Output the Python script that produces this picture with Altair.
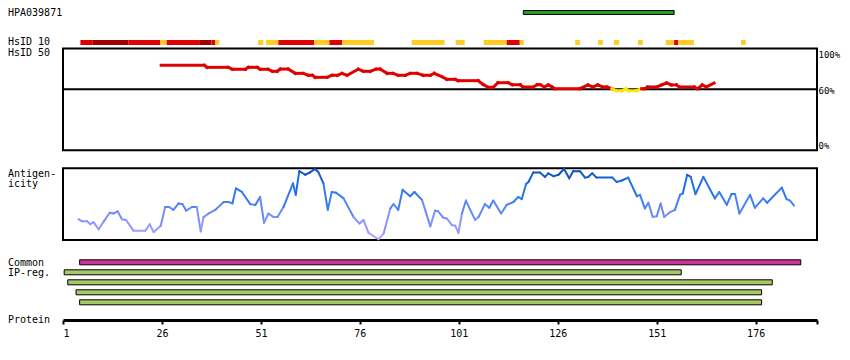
import altair as alt
import pandas as pd

FONT = "DejaVu Sans Mono"
W, H = 754, 312
RES_MIN, RES_MAX = 1, 191.5
TICKS = [1, 26, 51, 76, 101, 126, 151, 176]

# ---- antibody region ----
antibody_name = "HPA039871"
antibody_start = [117.3]
antibody_end = [155.4]

# ---- HsID 10 blocks ----
hs10_start = [5.4, 8.4, 17.5, 25.6, 27.2, 35.4, 38.5, 39.5, 50.3, 52.3, 55.4, 64.5, 68.3, 71.5,
              89.1, 100.2, 107.3, 113.1, 116.4, 130.4, 136.2, 140.2, 146.3, 153.3, 155.4, 156.4, 172.3]
hs10_end = [8.4, 17.5, 25.6, 27.2, 35.4, 38.5, 39.5, 40.5, 51.6, 55.4, 64.5, 68.3, 71.5, 79.6,
            97.4, 102.5, 113.1, 116.4, 117.4, 131.6, 137.4, 141.5, 147.5, 155.4, 156.4, 160.4, 173.5]
hs10_level = ["high", "top", "high", "mid", "high", "top", "high", "mid", "mid", "mid", "high", "mid", "high", "mid",
              "mid", "mid", "mid", "high", "mid", "mid", "mid", "mid", "mid", "mid", "high", "mid", "mid"]

# ---- HsID 50 identity (%) ----
id_res = [25.8, 36.7, 37.4, 42.7, 43.8, 47.1, 47.8, 50.1, 50.8, 52.8, 53.9, 55.1, 55.9, 57.9, 59.7, 61.7,
          63.0, 64.0, 64.7, 67.7, 69.0, 70.3, 71.5, 72.8, 75.6, 76.9, 78.6, 80.1, 81.1, 82.9, 84.4, 85.7,
          87.5, 88.7, 90.5, 92.0, 93.8, 94.8, 96.8, 98.0, 100.1, 100.8, 105.9, 107.1, 108.4, 109.7, 110.9,
          113.4, 114.5, 116.5, 117.2, 119.8, 120.8, 121.6, 122.6, 123.6, 124.6, 125.3, 131.6, 133.6, 134.9,
          136.1, 137.4, 138.4, 139.7, 140.7, 142.2, 143.2, 143.9, 145.9, 147.2, 147.9, 148.7, 151.0, 152.2,
          153.5, 154.7, 156.0, 156.7, 160.5, 161.3, 162.5, 163.5, 165.5]
id_pct = [83.5, 83.5, 81.5, 81.5, 79.6, 79.6, 81.5, 81.5, 79.6, 79.6, 77.6, 77.6, 79.8, 79.8, 75.6, 75.6,
          73.7, 73.7, 71.7, 71.7, 73.7, 73.7, 75.6, 73.7, 79.6, 77.6, 77.6, 79.8, 79.8, 75.6, 75.6, 73.7,
          73.7, 75.6, 75.6, 73.7, 73.7, 75.6, 72.3, 69.7, 69.7, 68.4, 68.4, 64.8, 61.9, 61.9, 66.4,
          66.4, 64.4, 64.4, 62.2, 62.2, 64.4, 64.4, 62.2, 64.2, 62.2, 60.5, 60.5, 64.2, 62.2,
          64.2, 62.2, 62.2, 60.5, 58.5, 58.5, 60.5, 58.5, 58.5, 60.5, 60.5, 62.2, 62.2, 64.2,
          66.1, 64.2, 64.2, 62.2, 62.2, 60.4, 64.2, 62.2, 66.1]
id_threshold = [60]
id_labels = ["100%", "60%", "0%"]

# ---- Antigenicity ----
ag_res = [4.9, 5.8, 7.1, 7.9, 8.7, 10.0, 11.3, 12.8, 13.8, 14.8, 15.9, 16.9, 18.8, 21.8, 22.9, 23.9, 25.7,
          26.8, 27.8, 28.9, 30.2, 31.2, 32.1, 33.6, 34.8, 35.8, 36.5, 37.8, 39.5, 41.6, 42.8, 43.8, 44.7,
          46.2, 48.3, 49.6, 50.8, 51.8, 52.9, 54.2, 55.2, 56.7, 59.1, 59.8, 60.7, 62.2, 63.3, 64.7, 65.5,
          66.8, 67.9, 68.9, 70.0, 71.9, 74.4, 75.9, 76.9, 78.2, 80.7, 82.0, 83.7, 84.5, 85.7, 86.8, 88.7,
          89.8, 91.7, 93.8, 95.0, 95.8, 97.1, 98.0, 99.2, 100.1, 100.9, 101.8, 102.8, 105.1, 106.0, 107.6,
          108.7, 109.7, 111.7, 113.1, 114.8, 116.0, 116.9, 118.0, 118.6, 119.8, 121.5, 122.8, 123.6, 124.9,
          126.2, 127.6, 128.9, 129.9, 131.6, 132.9, 133.7, 134.7, 135.8, 139.8, 140.9, 142.2, 143.8, 146.0,
          146.8, 148.0, 148.9, 150.0, 151.0, 152.0, 152.9, 154.4, 155.6, 156.9, 157.6, 158.7, 159.6, 160.8,
          162.8, 165.7, 166.8, 168.7, 169.9, 170.8, 171.9, 174.6, 175.8, 177.9, 178.9, 182.6, 183.8, 184.7,
          185.7]
ag_val = [0.29, 0.26, 0.26, 0.22, 0.25, 0.15, 0.26, 0.38, 0.37, 0.40, 0.29, 0.28, 0.13, 0.13, 0.22, 0.11, 0.20,
          0.46, 0.46, 0.42, 0.51, 0.50, 0.41, 0.46, 0.46, 0.12, 0.32, 0.37, 0.42, 0.53, 0.53, 0.51, 0.72,
          0.67, 0.50, 0.49, 0.60, 0.24, 0.37, 0.32, 0.32, 0.46, 0.79, 0.63, 0.96, 0.91, 0.94, 0.99, 0.95,
          0.79, 0.42, 0.67, 0.66, 0.58, 0.32, 0.23, 0.28, 0.10, 0.01, 0.09, 0.44, 0.50, 0.42, 0.70, 0.61,
          0.67, 0.56, 0.19, 0.41, 0.40, 0.31, 0.30, 0.21, 0.20, 0.10, 0.37, 0.55, 0.28, 0.32, 0.50,
          0.45, 0.55, 0.37, 0.49, 0.53, 0.60, 0.57, 0.78, 0.81, 0.94, 0.94, 0.88, 0.93, 0.89,
          0.91, 0.99, 0.86, 0.96, 0.96, 0.87, 0.88, 0.93, 0.87, 0.87, 0.81, 0.83, 0.87, 0.61,
          0.63, 0.44, 0.52, 0.32, 0.33, 0.51, 0.32, 0.39, 0.42, 0.63, 0.65, 0.91, 0.88, 0.64,
          0.88, 0.58, 0.67, 0.49, 0.64, 0.64, 0.37, 0.63, 0.45, 0.58, 0.52, 0.73, 0.57, 0.55,
          0.48]

# ---- Common IP regions ----
ip_start = [5.2, 1.3, 2.2, 4.3, 5.2]
ip_end = [187.4, 157.2, 180.2, 177.5, 177.5]
ip_kind = ["common", "ip", "ip", "ip", "ip"]
ip_row = [0, 1, 2, 3, 4]

# ---------------- build ----------------
xs = alt.Scale(domain=[RES_MIN, RES_MAX], nice=False, zero=False, padding=0)
xax = alt.Axis(values=TICKS + [RES_MAX], title=None, grid=False, domainWidth=3, domainColor="black",
               tickColor="black", tickWidth=2, tickSize=4, labelFont=FONT, labelFontSize=10,
               labelColor="black", labelPadding=4, labelExpr="datum.value > 190 ? '' : datum.label",
               orient="bottom")


def X(field):
    return alt.X(field, type="quantitative", scale=xs, axis=xax)


id_scale = alt.Scale(domain=[0, 100], range=[142.3, 40.5], nice=False, zero=False)
ag_scale = alt.Scale(domain=[0, 1], range=[232, 160.3], nice=False, zero=False)
ip_scale = alt.Scale(domain=[0, 4], range=[254.3, 294.3], nice=False, zero=False, padding=0)

layers = []

# antibody bar
ab = pd.DataFrame({"s": antibody_start, "e": antibody_end})
layers.append(alt.Chart(ab).mark_rect(fill="#1e9e1e", stroke="black", strokeWidth=1).encode(
    x=X("s"), x2="e", y=alt.value(2.5), y2=alt.value(6.5)))

# HsID10
h10 = pd.DataFrame({"s": hs10_start, "e": hs10_end, "lvl": hs10_level})
layers.append(alt.Chart(h10).mark_rect().encode(
    x=X("s"), x2="e", y=alt.value(32), y2=alt.value(37),
    color=alt.Color("lvl:N", scale=alt.Scale(domain=["top", "high", "mid"],
                                             range=["#a00000", "#e00000", "#ffcc22"]), legend=None)))

# HsID50 box
box_id = pd.DataFrame({"s": [RES_MIN], "e": [RES_MAX], "lo": [0], "hi": [100]})
layers.append(alt.Chart(box_id).mark_rect(fill="white", fillOpacity=0, stroke="black", strokeWidth=2).encode(
    x=X("s"), x2="e", y=alt.Y("lo:Q", scale=id_scale, axis=None), y2="hi"))
thr = pd.DataFrame({"s": [RES_MIN], "e": [RES_MAX], "v": id_threshold})
layers.append(alt.Chart(thr).mark_rule(color="black", strokeWidth=2).encode(
    x=X("s"), x2="e", y=alt.Y("v:Q", scale=id_scale, axis=None)))

# identity line segments
seg = pd.DataFrame({"x": id_res[:-1], "x2": id_res[1:], "y": id_pct[:-1], "y2": id_pct[1:]})
seg["low"] = ((seg["y"] < 60) | (seg["y2"] < 60)).map({True: "below", False: "above"})
layers.append(alt.Chart(seg).mark_rule(strokeWidth=3, strokeCap="square").encode(
    x=X("x"), x2="x2", y=alt.Y("y:Q", scale=id_scale, axis=None), y2="y2",
    color=alt.Color("low:N", scale=alt.Scale(domain=["above", "below"], range=["#e00000", "#ffe600"]),
                    legend=None)))

# percent labels
pct_vals = [100, 60, 0]
for lab, v, dy in zip(id_labels, pct_vals, [6, 2, -4]):
    d = pd.DataFrame({"v": [v], "t": [lab]})
    layers.append(alt.Chart(d).mark_text(font=FONT, fontSize=9, align="left", baseline="middle",
                                         dx=1.5, dy=dy, color="black").encode(
        x=alt.value(W), y=alt.Y("v:Q", scale=id_scale, axis=None), text="t:N"))

# Antigenicity box
box_ag = pd.DataFrame({"s": [RES_MIN], "e": [RES_MAX], "lo": [0], "hi": [1]})
layers.append(alt.Chart(box_ag).mark_rect(fill="white", fillOpacity=0, stroke="black", strokeWidth=2).encode(
    x=X("s"), x2="e", y=alt.Y("lo:Q", scale=ag_scale, axis=None), y2="hi"))
ags = pd.DataFrame({"x": ag_res[:-1], "x2": ag_res[1:], "y": ag_val[:-1], "y2": ag_val[1:]})
ags["m"] = (ags["y"] + ags["y2"]) / 2
layers.append(alt.Chart(ags).mark_rule(strokeWidth=2, strokeCap="round").encode(
    x=X("x"), x2="x2", y=alt.Y("y:Q", scale=ag_scale, axis=None), y2="y2",
    color=alt.Color("m:Q", scale=alt.Scale(domain=[0, 0.25, 0.55, 0.8, 1.0],
                                           range=["#b4a8f4", "#8c94ff", "#3a80f2", "#1a6ee6", "#0a4aa8"]),
                    legend=None)))

# IP regions
ip = pd.DataFrame({"s": ip_start, "e": ip_end, "k": ip_kind, "r": ip_row})
layers.append(alt.Chart(ip).mark_bar(size=5, stroke="black", strokeWidth=1).encode(
    x=X("s"), x2="e", y=alt.Y("r:Q", scale=ip_scale, axis=None),
    color=alt.Color("k:N", scale=alt.Scale(domain=["common", "ip"], range=["#cc3399", "#a6c866"]),
                    legend=None)))

# left labels
left_labels = [(antibody_name, 5.3), ("HsID 10", 34.3), ("HsID 50", 45.3), ("Antigen-", 165.5),
               ("icity", 175.5), ("Common", 255.3), ("IP-reg.", 265.3), ("Protein", 312)]
for t, yv in left_labels:
    layers.append(alt.Chart(pd.DataFrame({"t": [t]})).mark_text(
        font=FONT, fontSize=10, align="left", baseline="middle", color="black").encode(
        x=alt.value(-55), y=alt.value(yv), text="t:N"))

chart = alt.layer(*layers).resolve_scale(y="independent", color="independent").properties(
    width=W, height=H, padding={"left": 55, "top": 0, "right": 24, "bottom": 20},
    autosize=alt.AutoSizeParams(type="none"), background="white"
).configure_view(stroke=None)

chart.save("out.html", embed_options={"renderer": "svg", "actions": False})
